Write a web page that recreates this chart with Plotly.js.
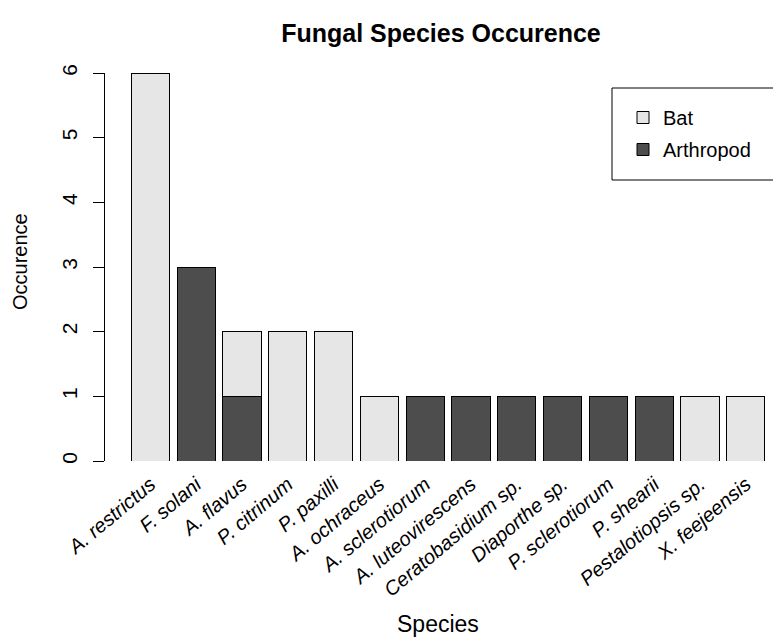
<!DOCTYPE html>
<html>
<head>
<meta charset="utf-8">
<script src="https://cdn.plot.ly/plotly-3.0.1.min.js"></script>
<style>html,body{margin:0;padding:0;background:#fff;}#chart{width:773px;height:637px;}</style>
</head>
<body>
<div id="chart"></div>
<script>
const species = ["A. restrictus","F. solani","A. flavus","P. citrinum","P. paxilli","A. ochraceus","A. sclerotiorum","A. luteovirescens","Ceratobasidium sp.","Diaporthe sp.","P. sclerotiorum","P. shearii","Pestalotiopsis sp.","X. feejeensis"];
const arthropod = [0,3,1,0,0,0,1,1,1,1,1,1,0,0];
const bat = [6,0,1,2,2,1,0,0,0,0,0,0,1,1];
const yTicks = [0,1,2,3,4,5,6];

const FONT = "Liberation Sans, Arial, sans-serif";
const W = 773, H = 637, L = 105, T = 73, B = 176;
const PW = W - L, PH = H - T - B;
const px = x => (x - L) / PW;          // pixel -> paper x
const py = y => (H - B - y) / PH;      // pixel -> paper y

const traces = [
  {type:"bar", name:"Arthropod", legendgroup:"a", legendrank:2, x:species, y:arthropod,
   marker:{color:"#4d4d4d", line:{color:"#000", width:1}}},
  {type:"bar", name:"Bat", legendgroup:"b", legendrank:1, x:species, y:bat,
   marker:{color:"#e6e6e6", line:{color:"#000", width:1}}}
];
const layout = {
  width:W, height:H,
  margin:{l:L, r:0, t:T, b:B},
  paper_bgcolor:"#fff", plot_bgcolor:"#fff",
  barmode:"stack", bargap:0.166,
  font:{family:FONT, color:"#000"},
  title:{text:"<b>Fungal Species Occurence</b>", font:{size:25, family:FONT}, x:px(441), xanchor:"center", xref:"paper", y:1-33/H, yanchor:"middle"},
  xaxis:{type:"category", range:[-0.993, 13.592], showline:false, showgrid:false, zeroline:false, ticks:"",
         tickangle:-40, tickfont:{size:20, family:FONT, style:"italic"}, tickvals:species, ticktext:species, ticklabelstandoff:7},
  yaxis:{range:[0,6], tickvals:yTicks, ticktext:yTicks.map(String), showline:true, linecolor:"#000", linewidth:1, ticks:"outside", ticklen:11, tickcolor:"#000", tickwidth:1,
         showgrid:false, zeroline:false, tickangle:-90, tickfont:{size:21, family:FONT}, ticklabelstandoff:8},
  showlegend:true,
  legend:{x:px(623), xanchor:"left", y:py(98), yanchor:"top", borderwidth:0, bgcolor:"rgba(0,0,0,0)", traceorder:"grouped",
          font:{size:20, family:FONT}, itemwidth:30, tracegroupgap:3},
  shapes:[
    {type:"rect", xref:"paper", yref:"paper", x0:px(612), x1:px(790), y0:py(180), y1:py(88), line:{color:"#000", width:1}, fillcolor:"rgba(0,0,0,0)"}
  ],
  annotations:[
    {text:"Species", xref:"paper", yref:"paper", x:px(438), y:py(624), yanchor:"middle", showarrow:false, font:{size:23, family:FONT}},
    {text:"Occurence", xref:"paper", yref:"paper", x:px(20), y:py(262), xanchor:"center", yanchor:"middle", textangle:-90, showarrow:false, font:{size:20, family:FONT}}
  ]
};
Plotly.newPlot("chart", traces, layout, {displayModeBar:false, staticPlot:true});
</script>
</body>
</html>
